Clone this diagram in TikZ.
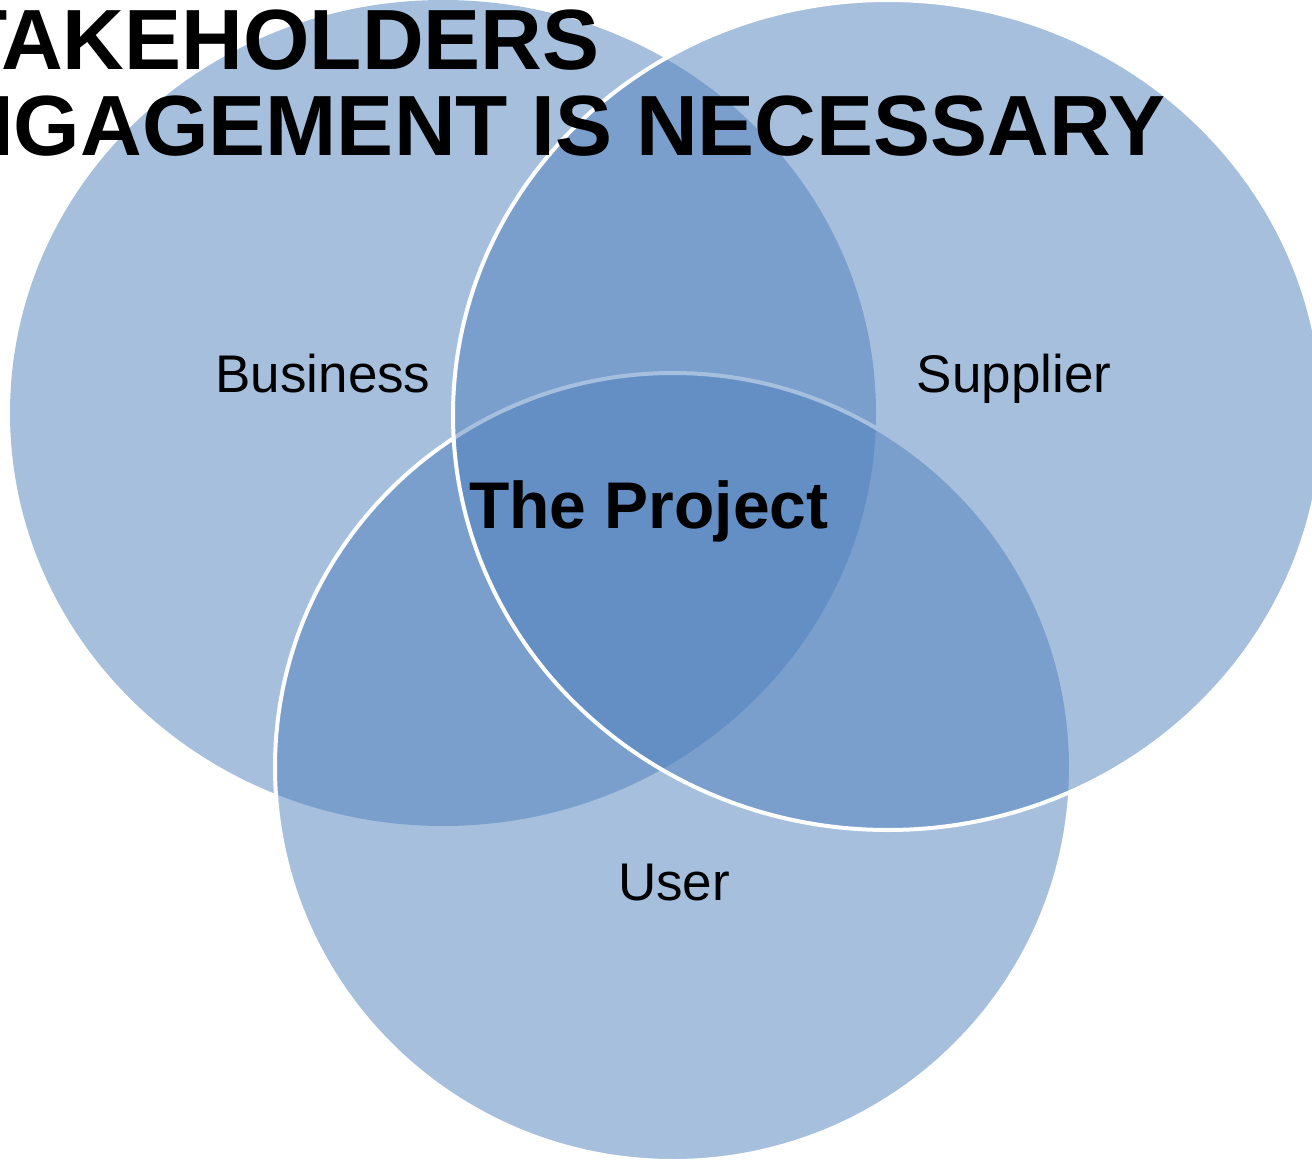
\documentclass[tikz,border=0pt]{standalone}
\usepackage{fontspec}
\setmainfont{Liberation Sans}
\definecolor{venn}{HTML}{4F81BD}
\tikzset{
  vennfill/.style={fill=venn, fill opacity=0.5, draw opacity=1},
  vennline/.style={vennfill, draw=white, line width=4pt},
  lbl/.style={anchor=base, inner sep=0pt, text=black, font=\fontsize{53}{60}\selectfont},
  projlbl/.style={anchor=base, inner sep=0pt, text=black, font=\fontsize{66}{72}\selectfont\bfseries},
  titlelbl/.style={anchor=base west, inner sep=0pt, text=black, font=\fontsize{85.5}{90}\selectfont\bfseries}
}
\begin{document}
\begin{tikzpicture}[x=1pt,y=-1pt]
\useasboundingbox (0,0) rectangle (1312,1161);
\clip (0,0) rectangle (1312,1161);
\fill[white] (0,0) rectangle (1312,1161);
% Business ellipse (no outline)
\path[vennfill] (443,413) ellipse [x radius=433, y radius=413];
% User ellipse
\path[vennline] (673,767) ellipse [x radius=398, y radius=394];
% Supplier ellipse
\path[vennline] (888,415) ellipse [x radius=435, y radius=415];
% labels
\node[lbl] (business) at (323,392) {Business};
\node[lbl] (supplier) at (1014,392) {Supplier};
\node[lbl] (user) at (674,900) {User};
\node[projlbl] (project) at (649,528) {The Project};
% title (clipped at the left edge)
\node[titlelbl] (title1) at (-102,70) {STAKEHOLDERS};
\node[titlelbl] (title2) at (-105,156) {ENGAGEMENT IS NECESSARY};
\end{tikzpicture}
\end{document}
